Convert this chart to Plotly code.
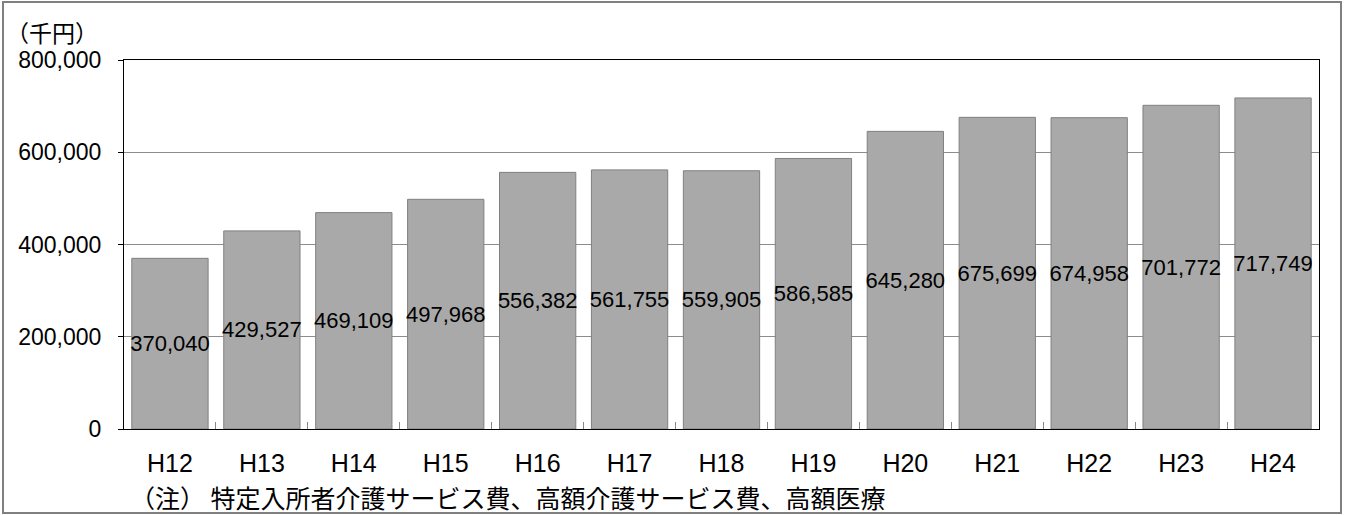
import plotly.graph_objects as go

categories = ["H12", "H13", "H14", "H15", "H16", "H17", "H18", "H19", "H20", "H21", "H22", "H23", "H24"]
values = [370040, 429527, 469109, 497968, 556382, 561755, 559905, 586585, 645280, 675699, 674958, 701772, 717749]
y_ticks = [0, 200000, 400000, 600000, 800000]
y_tick_labels = ["0", "200,000", "400,000", "600,000", "800,000"]
unit_label = "（千円）"
note_text = "（注） 特定入所者介護サービス費、高額介護サービス費、高額医療"

W, H = 1350, 515
ML, MR, MT, MB = 124, 31, 60, 86
PW, PH = W - ML - MR, H - MT - MB

def px_x(px):
    return (px - ML) / PW

def px_y(py):
    return (H - MB - py) / PH

fig = go.Figure()
fig.add_trace(go.Bar(
    x=categories,
    y=values,
    text=[f"{v:,}" for v in values],
    textposition="inside",
    insidetextanchor="middle",
    constraintext="none",
    textangle=0,
    textfont=dict(family="Liberation Sans, Arial, sans-serif", size=22, color="#000000"),
    marker=dict(color="#A9A9A9", line=dict(color="#808080", width=1)),
    hoverinfo="x+y",
))

fig.update_layout(
    width=W, height=H,
    margin=dict(l=ML, r=MR, t=MT, b=MB),
    paper_bgcolor="white",
    plot_bgcolor="white",
    bargap=0.17,
    showlegend=False,
    font=dict(family="Liberation Sans, Arial, sans-serif", color="#000000"),
    xaxis=dict(
        type="category",
        showline=True, linecolor="#000000", linewidth=1, mirror=True,
        ticks="inside", tickson="boundaries", ticklen=7, tickcolor="#888888",
        tickfont=dict(size=25, family="Liberation Sans, Arial, sans-serif"),
        ticklabelstandoff=12,
        showgrid=False,
        fixedrange=True,
    ),
    yaxis=dict(
        range=[0, 800000],
        tickvals=y_ticks, ticktext=y_tick_labels,
        showline=True, linecolor="#000000", linewidth=1, mirror=True,
        ticks="outside", ticklen=5, tickcolor="#000000",
        tickfont=dict(size=23, family="Liberation Sans, Arial, sans-serif"),
        ticklabelstandoff=12,
        showgrid=True, gridcolor="#8C8C8C", gridwidth=1,
        zeroline=False,
        fixedrange=True,
    ),
    annotations=[
        dict(text=unit_label, xref="paper", yref="paper",
             x=px_x(4), y=px_y(32), xanchor="left", yanchor="middle",
             showarrow=False,
             font=dict(family="Noto Sans CJK JP", size=23, color="#000000")),
        dict(text=note_text, xref="paper", yref="paper",
             x=px_x(128), y=px_y(497), xanchor="left", yanchor="middle",
             showarrow=False,
             font=dict(family="Noto Sans CJK JP", size=25, color="#000000")),
    ],
    shapes=[
        dict(type="rect", xref="paper", yref="paper",
             x0=px_x(3), x1=px_x(1341), y0=px_y(513), y1=px_y(2),
             line=dict(color="#808080", width=2), layer="below"),
    ],
)

fig.write_html("out.html", config={"displayModeBar": False})

with open("out.html", "r", encoding="utf-8") as f:
    html = f.read()
html = html.replace("<body>", '<body style="margin:0;padding:0;overflow:hidden">', 1)
with open("out.html", "w", encoding="utf-8") as f:
    f.write(html)
